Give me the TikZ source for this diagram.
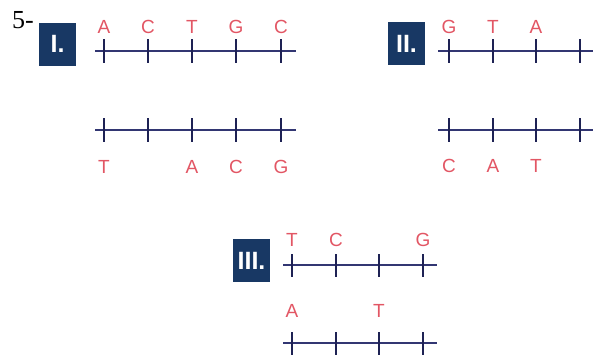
\documentclass[tikz,border=0pt]{standalone}
\usepackage{fontspec}
\setmainfont{Liberation Serif}
\newfontfamily\basefont{Liberation Sans}
\usetikzlibrary{positioning}
\definecolor{navy}{RGB}{24,56,100}
\definecolor{strandblue}{RGB}{50,54,114}
\definecolor{tickblue}{RGB}{30,34,84}
\definecolor{basered}{RGB}{226,86,100}

\begin{document}
\begin{tikzpicture} [
    x = 1pt, y = -1pt,
    strand/.style = { draw = strandblue, line width = 2.3pt },
    tickmark/.style = { draw = tickblue, line width = 2.6pt },
    base/.style = { text = basered, inner sep = 0, font = \basefont\fontsize{19}{19}\selectfont },
    tag/.style = { fill = navy, text = white, inner sep = 0, minimum width = 37pt, minimum height = 43pt,
                   font = \basefont\bfseries\fontsize{25}{25}\selectfont }
    ]
    \useasboundingbox (0,0) rectangle (601,356);

    \node [anchor = base west, inner sep = 0, font = \fontsize{26}{26}\selectfont] (num) at (12,28) {5-};

    % I.
    \node [tag] (tagI) at (57.5,44) {I.};
    \coordinate (Ita) at (95,51);  \coordinate (Itb) at (296,51);
    \coordinate (Iba) at (95,130); \coordinate (Ibb) at (296,130);
    \draw [strand] (Ita) -- (Itb);
    \draw [strand] (Iba) -- (Ibb);
    \foreach \x in {104,148,192,236,281} {
        \draw [tickmark] (\x,39) -- (\x,63);
        \draw [tickmark] (\x,118) -- (\x,142);
    }
    \foreach \x/\b [count=\i] in {104/A,148/C,192/T,236/G,281/C}
        \node [base] (It\i) at (\x,27) {\b};
    \foreach \x/\b [count=\i] in {104/T,192/A,236/C,281/G}
        \node [base] (Ib\i) at (\x,167) {\b};

    % II.
    \node [tag] (tagII) at (406.5,43.5) {II.};
    \coordinate (IIta) at (438,51);  \coordinate (IItb) at (593,51);
    \coordinate (IIba) at (438,130); \coordinate (IIbb) at (593,130);
    \draw [strand] (IIta) -- (IItb);
    \draw [strand] (IIba) -- (IIbb);
    \foreach \x in {449,493,536,580} {
        \draw [tickmark] (\x,39) -- (\x,63);
        \draw [tickmark] (\x,118) -- (\x,142);
    }
    \foreach \x/\b [count=\i] in {449/G,493/T,536/A}
        \node [base] (IIt\i) at (\x,27) {\b};
    \foreach \x/\b [count=\i] in {449/C,493/A,536/T}
        \node [base] (IIb\i) at (\x,166) {\b};

    % III.
    \node [tag] (tagIII) at (251.5,260.5) {III.};
    \coordinate (IIIta) at (283,265); \coordinate (IIItb) at (437,265);
    \coordinate (IIIba) at (283,343); \coordinate (IIIbb) at (437,343);
    \draw [strand] (IIIta) -- (IIItb);
    \draw [strand] (IIIba) -- (IIIbb);
    \foreach \x in {292,336,379,423} {
        \draw [tickmark] (\x,254) -- (\x,277);
        \draw [tickmark] (\x,332) -- (\x,355);
    }
    \foreach \x/\b [count=\i] in {292/T,336/C,423/G}
        \node [base] (IIIt\i) at (\x,240) {\b};
    \foreach \x/\b [count=\i] in {292/A,379/T}
        \node [base] (IIIb\i) at (\x,311) {\b};

\end{tikzpicture}
\end{document}
